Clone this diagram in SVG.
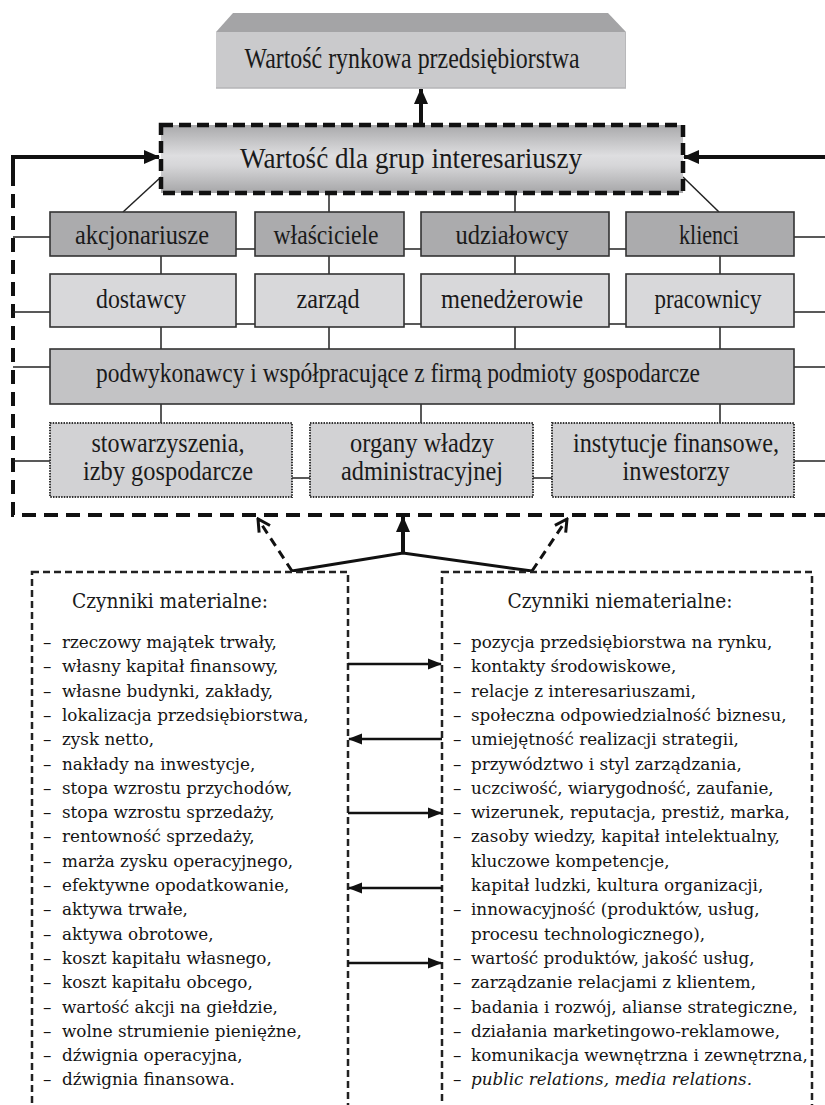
<svg xmlns="http://www.w3.org/2000/svg" width="825" height="1105" viewBox="0 0 825 1105">
  <style>
    .lbl { font-family: "Liberation Serif", "DejaVu Serif", serif; fill: #1a1a1a; text-anchor: middle; }
    .big { font-size: 29px; }
    .mid { font-size: 27px; }
    .lst { font-family: "DejaVu Serif", "Liberation Serif", serif; font-size: 16.8px; fill: #141414; }
    .ttl { font-family: "DejaVu Serif", "Liberation Serif", serif; font-size: 20.5px; fill: #1a1a1a; text-anchor: middle; }
    .thin { stroke: #222; stroke-width: 1.5; fill: none; }
    .dark { fill: #ababad; stroke: #333; stroke-width: 1.6; }
    .light { fill: #d8d8da; stroke: #333; stroke-width: 1.6; }
    .midg { fill: #c3c3c5; stroke: #333; stroke-width: 1.6; }
    .dot { fill: #d2d2d4; stroke: #333; stroke-width: 2; stroke-dasharray: 1.5 1.2; }
    .frame { stroke: #111; stroke-width: 4; fill: none; stroke-dasharray: 14 8; }
    .listbox { fill: #fff; stroke: #222; stroke-width: 2.5; stroke-dasharray: 7 4; }
    .solid { stroke: #111; fill: none; }
  </style>
  <defs>
    <linearGradient id="gStake" x1="0" y1="0" x2="0" y2="1">
      <stop offset="0" stop-color="#a9a9ab"/>
      <stop offset="0.45" stop-color="#dedee0"/>
      <stop offset="0.6" stop-color="#d6d6d8"/>
      <stop offset="1" stop-color="#a6a6a8"/>
    </linearGradient>
    <marker id="headBig" markerUnits="userSpaceOnUse" markerWidth="16" markerHeight="16" viewBox="0 0 16 16" refX="15" refY="8" orient="auto">
      <path d="M0,1 L16,8 L0,15 Z" fill="#111"/>
    </marker>
    <marker id="headMed" markerUnits="userSpaceOnUse" markerWidth="14" markerHeight="14" viewBox="0 0 14 14" refX="13" refY="7" orient="auto">
      <path d="M0,1.5 L14,7 L0,12.5 Z" fill="#111"/>
    </marker>
    <marker id="headOpen" markerUnits="userSpaceOnUse" markerWidth="16" markerHeight="16" viewBox="0 0 16 16" refX="14" refY="8" orient="auto">
      <path d="M2,1.5 L14,8 L2,14.5" fill="none" stroke="#111" stroke-width="3"/>
    </marker>
  </defs>

  <!-- connectors -->
  <g id="connectors">
    <!-- stakeholder value to market value -->
    <line class="solid" x1="421" y1="124" x2="421" y2="89" stroke-width="4" marker-end="url(#headBig)"/>
    <!-- outer feedback frame -->
    <path class="solid" d="M13,172 V157 H159" stroke-width="4" marker-end="url(#headBig)"/>
    <line class="solid" x1="825" y1="157" x2="684" y2="157" stroke-width="4" marker-end="url(#headBig)"/>
    <path class="frame" d="M13,172 V515 H825"/>
    <!-- stakeholder box to first row -->
    <line class="thin" x1="161" y1="177" x2="123" y2="212"/>
    <line class="thin" x1="683" y1="177" x2="719" y2="212"/>
    <line class="thin" x1="329" y1="193" x2="329" y2="212"/>
    <line class="thin" x1="515" y1="193" x2="515" y2="212"/>
    <!-- row 1 to row 2 -->
    <line class="thin" x1="161" y1="256" x2="161" y2="274"/>
    <line class="thin" x1="329" y1="256" x2="329" y2="274"/>
    <line class="thin" x1="515" y1="256" x2="515" y2="274"/>
    <line class="thin" x1="720" y1="256" x2="720" y2="274"/>
    <!-- row 2 to row 3 -->
    <line class="thin" x1="161" y1="327" x2="161" y2="349"/>
    <line class="thin" x1="329" y1="327" x2="329" y2="349"/>
    <line class="thin" x1="515" y1="327" x2="515" y2="349"/>
    <line class="thin" x1="720" y1="327" x2="720" y2="349"/>
    <!-- row 3 to row 4 -->
    <line class="thin" x1="161" y1="404" x2="161" y2="423"/>
    <line class="thin" x1="421" y1="404" x2="421" y2="423"/>
    <line class="thin" x1="720" y1="404" x2="720" y2="423"/>
    <!-- side links to frame -->
    <line class="thin" x1="13" y1="237" x2="50" y2="237"/>
    <line class="thin" x1="794" y1="237" x2="825" y2="237"/>
    <line class="thin" x1="13" y1="312" x2="50" y2="312"/>
    <line class="thin" x1="794" y1="312" x2="825" y2="312"/>
    <line class="thin" x1="13" y1="367" x2="50" y2="367"/>
    <line class="thin" x1="794" y1="367" x2="825" y2="367"/>
    <line class="thin" x1="13" y1="461" x2="50" y2="461"/>
    <line class="thin" x1="794" y1="461" x2="825" y2="461"/>
    <!-- links inside rows -->
    <line class="thin" x1="236" y1="249" x2="255" y2="249"/>
    <line class="thin" x1="404" y1="249" x2="421" y2="249"/>
    <line class="thin" x1="609" y1="249" x2="626" y2="249"/>
    <line class="thin" x1="236" y1="324" x2="255" y2="324"/>
    <line class="thin" x1="404" y1="324" x2="421" y2="324"/>
    <line class="thin" x1="609" y1="324" x2="626" y2="324"/>
    <line class="thin" x1="292" y1="478" x2="310" y2="478"/>
    <line class="thin" x1="533" y1="478" x2="552" y2="478"/>
    <!-- factors to frame -->
    <path class="solid" d="M292,571 L403,553 L532,571" stroke-width="3"/>
    <line class="solid" x1="403" y1="553" x2="403" y2="517" stroke-width="4" marker-end="url(#headBig)"/>
    <line class="solid" x1="292" y1="571" x2="258" y2="519" stroke-width="3" stroke-dasharray="9 6" marker-end="url(#headOpen)"/>
    <line class="solid" x1="532" y1="571" x2="567" y2="519" stroke-width="3" stroke-dasharray="9 6" marker-end="url(#headOpen)"/>
  </g>

  <g id="marketValue">
    <path d="M233,13 H608 L626,32 H216 Z" fill="#a4a4a6"/>
    <rect x="216" y="32" width="410" height="56" fill="#cacacc"/>
    <line x1="216" y1="88" x2="626" y2="88" stroke="#b5b5b7" stroke-width="1.5"/>
    <line x1="625.5" y1="32" x2="625.5" y2="88" stroke="#b8b8ba" stroke-width="1"/>
    <text class="lbl big" x="412" y="68" textLength="335" lengthAdjust="spacingAndGlyphs">Wartość rynkowa przedsiębiorstwa</text>
  </g>

  <g id="stakeholderValue">
    <rect x="161" y="125" width="522" height="68" fill="url(#gStake)" stroke="#111" stroke-width="4.5" stroke-dasharray="12 6"/>
    <text class="lbl big" x="411" y="168" textLength="342" lengthAdjust="spacingAndGlyphs">Wartość dla grup interesariuszy</text>
  </g>

  <g id="akcjonariusze">
    <rect class="dark" x="50" y="212" width="186" height="44"/>
    <text class="lbl mid" x="142" y="244" textLength="134" lengthAdjust="spacingAndGlyphs">akcjonariusze</text>
  </g>
  <g id="wlasciciele">
    <rect class="dark" x="255" y="212" width="149" height="44"/>
    <text class="lbl mid" x="326" y="244" textLength="105" lengthAdjust="spacingAndGlyphs">właściciele</text>
  </g>
  <g id="udzialowcy">
    <rect class="dark" x="421" y="212" width="188" height="44"/>
    <text class="lbl mid" x="512" y="244" textLength="113" lengthAdjust="spacingAndGlyphs">udziałowcy</text>
  </g>
  <g id="klienci">
    <rect class="dark" x="626" y="212" width="168" height="44"/>
    <text class="lbl mid" x="709" y="244" textLength="60" lengthAdjust="spacingAndGlyphs">klienci</text>
  </g>

  <g id="dostawcy">
    <rect class="light" x="50" y="274" width="186" height="53"/>
    <text class="lbl mid" x="141" y="308" textLength="90" lengthAdjust="spacingAndGlyphs">dostawcy</text>
  </g>
  <g id="zarzad">
    <rect class="light" x="255" y="274" width="149" height="53"/>
    <text class="lbl mid" x="328" y="308" textLength="63" lengthAdjust="spacingAndGlyphs">zarząd</text>
  </g>
  <g id="menedzerowie">
    <rect class="light" x="421" y="274" width="188" height="53"/>
    <text class="lbl mid" x="512" y="308" textLength="142" lengthAdjust="spacingAndGlyphs">menedżerowie</text>
  </g>
  <g id="pracownicy">
    <rect class="light" x="626" y="274" width="168" height="53"/>
    <text class="lbl mid" x="708" y="308" textLength="107" lengthAdjust="spacingAndGlyphs">pracownicy</text>
  </g>

  <g id="podwykonawcy">
    <rect class="midg" x="50" y="349" width="744" height="55"/>
    <text class="lbl mid" x="398" y="382" textLength="604" lengthAdjust="spacingAndGlyphs">podwykonawcy i współpracujące z firmą podmioty gospodarcze</text>
  </g>

  <g id="stowarzyszenia">
    <rect class="dot" x="50" y="423" width="242" height="74"/>
    <text class="lbl mid" x="168" y="452" textLength="153" lengthAdjust="spacingAndGlyphs">stowarzyszenia,</text>
    <text class="lbl mid" x="168" y="480" textLength="170" lengthAdjust="spacingAndGlyphs">izby gospodarcze</text>
  </g>
  <g id="organy">
    <rect class="dot" x="310" y="423" width="223" height="74"/>
    <text class="lbl mid" x="422" y="452" textLength="144" lengthAdjust="spacingAndGlyphs">organy władzy</text>
    <text class="lbl mid" x="422" y="480" textLength="162" lengthAdjust="spacingAndGlyphs">administracyjnej</text>
  </g>
  <g id="instytucje">
    <rect class="dot" x="552" y="423" width="242" height="74"/>
    <text class="lbl mid" x="676" y="452" textLength="206" lengthAdjust="spacingAndGlyphs">instytucje finansowe,</text>
    <text class="lbl mid" x="676" y="480" textLength="107" lengthAdjust="spacingAndGlyphs">inwestorzy</text>
  </g>

  <g id="czynnikiMaterialne">
    <rect class="listbox" x="32" y="572" width="316" height="560"/>
    <text class="ttl" x="170" y="608" textLength="196" lengthAdjust="spacingAndGlyphs">Czynniki materialne:</text>
    <text class="lst">
      <tspan x="43" y="648">–</tspan><tspan x="62" y="648">rzeczowy majątek trwały,</tspan>
      <tspan x="43" y="672.3">–</tspan><tspan x="62" y="672.3">własny kapitał finansowy,</tspan>
      <tspan x="43" y="696.6">–</tspan><tspan x="62" y="696.6">własne budynki, zakłady,</tspan>
      <tspan x="43" y="720.9">–</tspan><tspan x="62" y="720.9">lokalizacja przedsiębiorstwa,</tspan>
      <tspan x="43" y="745.2">–</tspan><tspan x="62" y="745.2">zysk netto,</tspan>
      <tspan x="43" y="769.5">–</tspan><tspan x="62" y="769.5">nakłady na inwestycje,</tspan>
      <tspan x="43" y="793.8">–</tspan><tspan x="62" y="793.8">stopa wzrostu przychodów,</tspan>
      <tspan x="43" y="818.1">–</tspan><tspan x="62" y="818.1">stopa wzrostu sprzedaży,</tspan>
      <tspan x="43" y="842.4">–</tspan><tspan x="62" y="842.4">rentowność sprzedaży,</tspan>
      <tspan x="43" y="866.7">–</tspan><tspan x="62" y="866.7">marża zysku operacyjnego,</tspan>
      <tspan x="43" y="891">–</tspan><tspan x="62" y="891">efektywne opodatkowanie,</tspan>
      <tspan x="43" y="915.3">–</tspan><tspan x="62" y="915.3">aktywa trwałe,</tspan>
      <tspan x="43" y="939.6">–</tspan><tspan x="62" y="939.6">aktywa obrotowe,</tspan>
      <tspan x="43" y="963.9">–</tspan><tspan x="62" y="963.9">koszt kapitału własnego,</tspan>
      <tspan x="43" y="988.2">–</tspan><tspan x="62" y="988.2">koszt kapitału obcego,</tspan>
      <tspan x="43" y="1012.5">–</tspan><tspan x="62" y="1012.5">wartość akcji na giełdzie,</tspan>
      <tspan x="43" y="1036.8">–</tspan><tspan x="62" y="1036.8">wolne strumienie pieniężne,</tspan>
      <tspan x="43" y="1061.1">–</tspan><tspan x="62" y="1061.1">dźwignia operacyjna,</tspan>
      <tspan x="43" y="1085.4">–</tspan><tspan x="62" y="1085.4">dźwignia finansowa.</tspan>
    </text>
  </g>

  <g id="czynnikiNiematerialne">
    <rect class="listbox" x="442" y="572" width="370" height="560"/>
    <text class="ttl" x="620" y="608" textLength="225" lengthAdjust="spacingAndGlyphs">Czynniki niematerialne:</text>
    <text class="lst">
      <tspan x="453" y="648">–</tspan><tspan x="471" y="648">pozycja przedsiębiorstwa na rynku,</tspan>
      <tspan x="453" y="672.3">–</tspan><tspan x="471" y="672.3">kontakty środowiskowe,</tspan>
      <tspan x="453" y="696.6">–</tspan><tspan x="471" y="696.6">relacje z interesariuszami,</tspan>
      <tspan x="453" y="720.9">–</tspan><tspan x="471" y="720.9">społeczna odpowiedzialność biznesu,</tspan>
      <tspan x="453" y="745.2">–</tspan><tspan x="471" y="745.2">umiejętność realizacji strategii,</tspan>
      <tspan x="453" y="769.5">–</tspan><tspan x="471" y="769.5">przywództwo i styl zarządzania,</tspan>
      <tspan x="453" y="793.8">–</tspan><tspan x="471" y="793.8">uczciwość, wiarygodność, zaufanie,</tspan>
      <tspan x="453" y="818.1">–</tspan><tspan x="471" y="818.1">wizerunek, reputacja, prestiż, marka,</tspan>
      <tspan x="453" y="842.4">–</tspan><tspan x="471" y="842.4">zasoby wiedzy, kapitał intelektualny,</tspan>
      <tspan x="471" y="866.7">kluczowe kompetencje,</tspan>
      <tspan x="471" y="891">kapitał ludzki, kultura organizacji,</tspan>
      <tspan x="453" y="915.3">–</tspan><tspan x="471" y="915.3">innowacyjność (produktów, usług,</tspan>
      <tspan x="471" y="939.6">procesu technologicznego),</tspan>
      <tspan x="453" y="963.9">–</tspan><tspan x="471" y="963.9">wartość produktów, jakość usług,</tspan>
      <tspan x="453" y="988.2">–</tspan><tspan x="471" y="988.2">zarządzanie relacjami z klientem,</tspan>
      <tspan x="453" y="1012.5">–</tspan><tspan x="471" y="1012.5">badania i rozwój, alianse strategiczne,</tspan>
      <tspan x="453" y="1036.8">–</tspan><tspan x="471" y="1036.8">działania marketingowo-reklamowe,</tspan>
      <tspan x="453" y="1061.1">–</tspan><tspan x="471" y="1061.1">komunikacja wewnętrzna i zewnętrzna,</tspan>
      <tspan x="453" y="1085.4">–</tspan><tspan x="471" y="1085.4" font-style="italic">public relations, media relations.</tspan>
    </text>
  </g>

  <!-- links between the two factor lists -->
  <g id="factorLinks">
    <line class="solid" x1="348" y1="664" x2="441" y2="664" stroke-width="2.5" marker-end="url(#headMed)"/>
    <line class="solid" x1="442" y1="739" x2="349" y2="739" stroke-width="2.5" marker-end="url(#headMed)"/>
    <line class="solid" x1="348" y1="813" x2="441" y2="813" stroke-width="2.5" marker-end="url(#headMed)"/>
    <line class="solid" x1="442" y1="888" x2="349" y2="888" stroke-width="2.5" marker-end="url(#headMed)"/>
    <line class="solid" x1="348" y1="963" x2="441" y2="963" stroke-width="2.5" marker-end="url(#headMed)"/>
  </g>
</svg>
